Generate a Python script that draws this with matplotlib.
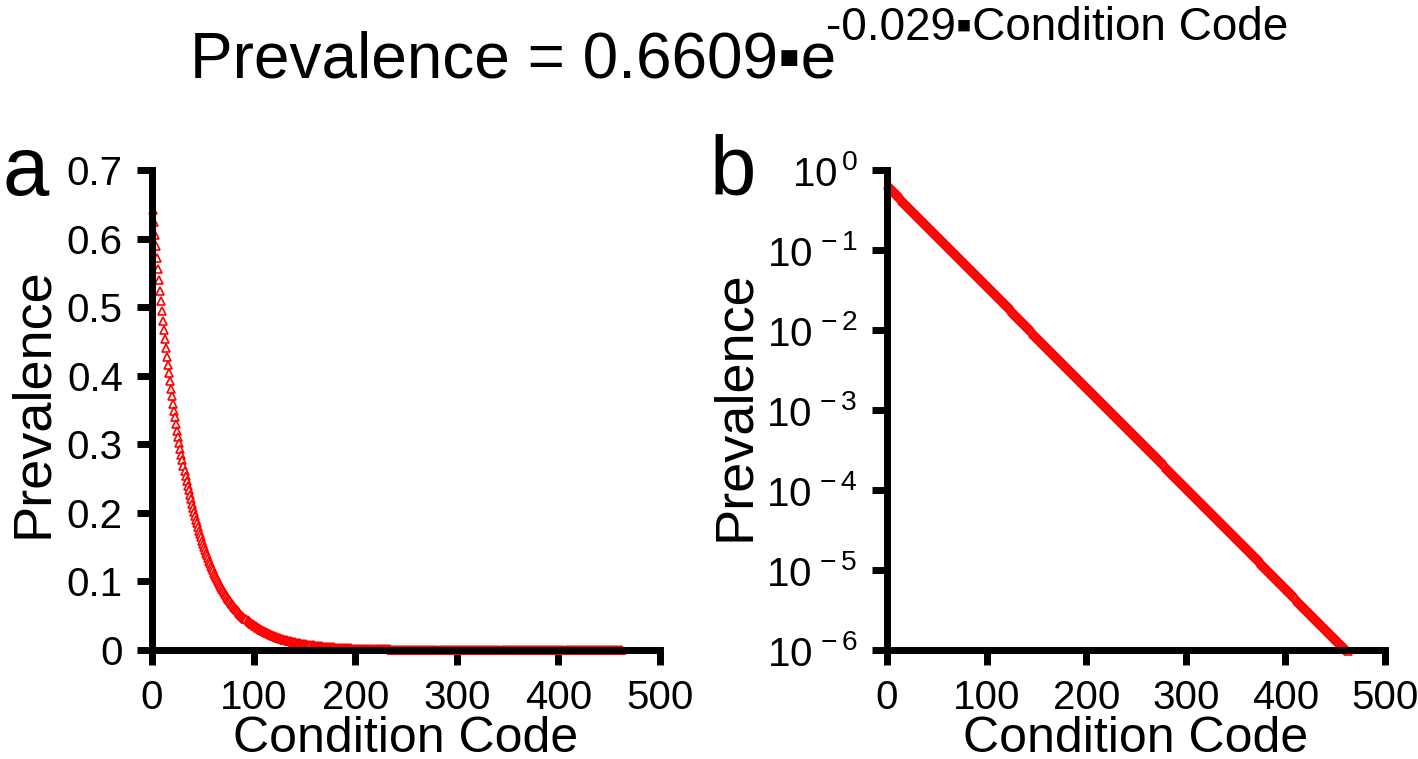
import matplotlib
matplotlib.use("Agg")
import matplotlib.pyplot as plt
import numpy as np

# fitted model shown in the figure title
coef_a = 0.6609
coef_b = -0.029
codes = np.arange(1, 464)
prevalence = coef_a * np.exp(coef_b * codes)

x_ticks = [0, 100, 200, 300, 400, 500]
ya_ticks = [0, 0.1, 0.2, 0.3, 0.4, 0.5, 0.6, 0.7]
ya_labels = ["0", "0.1", "0.2", "0.3", "0.4", "0.5", "0.6", "0.7"]
yb_exps = [0, -1, -2, -3, -4, -5, -6]

plt.rcParams['font.family'] = ['Liberation Sans', 'DejaVu Sans']
plt.rcParams['mathtext.fontset'] = 'custom'
plt.rcParams['mathtext.rm'] = 'Liberation Sans'
plt.rcParams['mathtext.it'] = 'Liberation Sans'

fig = plt.figure(figsize=(14.18, 7.59), dpi=100)
ax_a = fig.add_axes([152 / 1418, 1 - 650 / 759, 508 / 1418, 480 / 759])
ax_b = fig.add_axes([887 / 1418, 1 - 650 / 759, 498 / 1418, 480 / 759])

for ax in (ax_a, ax_b):
    ax.plot(codes, prevalence, linestyle='none', marker='^', markersize=6,
            markerfacecolor='white', markeredgecolor='red', markeredgewidth=1.2,
            clip_on=False)
    ax.set_xlim(0, 500)
    ax.set_xticks(x_ticks)
    ax.set_xticklabels([str(t) for t in x_ticks])
    for s in ('top', 'right'):
        ax.spines[s].set_visible(False)
    for s in ('left', 'bottom'):
        ax.spines[s].set_linewidth(5)
    ax.tick_params(axis='both', which='major', length=11, width=5, direction='out',
                   labelsize=29, pad=10)
    ax.tick_params(axis='both', which='minor', length=0)
    ax.set_xlabel("Condition Code", fontsize=36)
    ax.xaxis.set_label_coords(0.5, -0.137)
    ax.set_ylabel("Prevalence", fontsize=39)

ax_a.yaxis.set_label_coords(-0.186, 0.515)
ax_b.yaxis.set_label_coords(-0.256, 0.51)

ax_a.set_ylim(0, 0.7)
ax_a.set_yticks(ya_ticks)
ax_a.set_yticklabels(ya_labels)

ax_b.set_yscale('log')
ax_b.set_ylim(1e-6, 1)
ax_b.set_yticks([10.0 ** e for e in yb_exps])
ax_b.set_yticklabels([r"$10^{\,%d}$" % e for e in yb_exps])

fig.text(3 / 1418, 1 - 195 / 759, "a", fontsize=60, va='baseline')
fig.text(710 / 1418, 1 - 195 / 759, "b", fontsize=60, va='baseline')

fig.text(190 / 1418, 1 - 78 / 759, "Prevalence = 0.6609\u25aae", fontsize=46, va='baseline')
fig.text(826 / 1418, 1 - 40 / 759, "-0.029\u25aaCondition Code", fontsize=33, va='baseline')

fig.savefig("out.png", dpi=100)
